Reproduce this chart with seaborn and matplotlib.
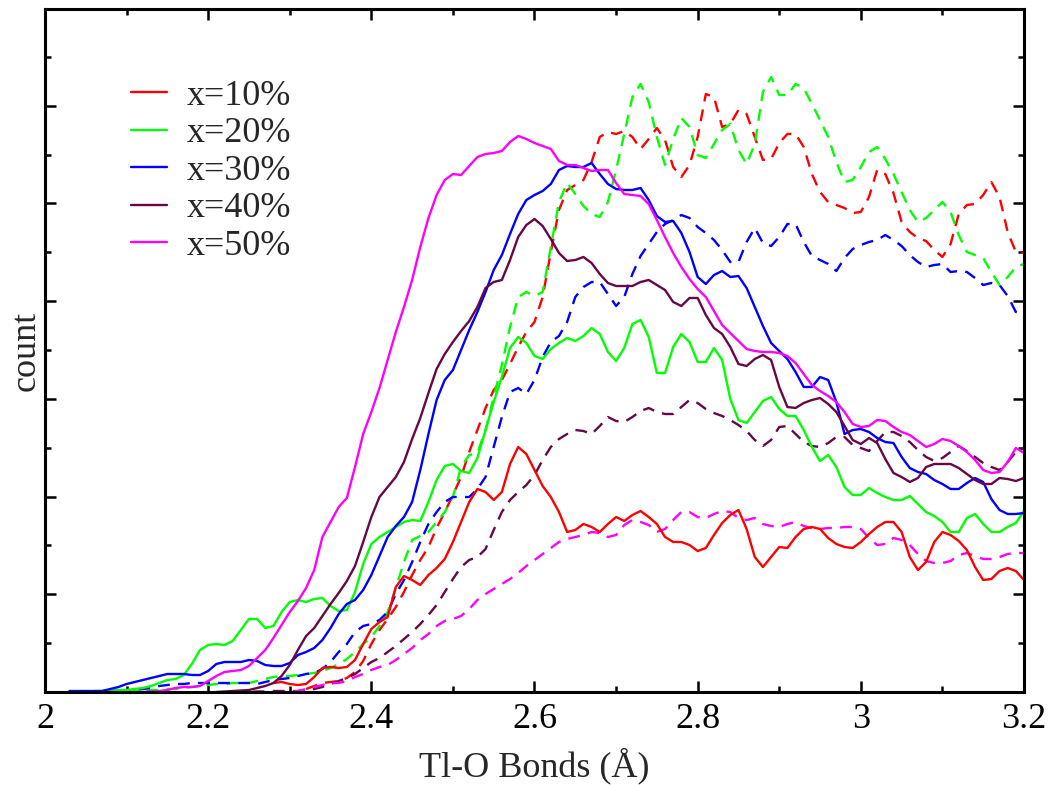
import numpy as np
import pandas as pd
import matplotlib
matplotlib.use("Agg")
import matplotlib.pyplot as plt
from matplotlib.ticker import MultipleLocator, FormatStrFormatter
import seaborn as sns

# data (y in screen-height units, 97.7 per major tick)
# every series ends at 3.20 and is sampled every 0.01 A
labels = ["x=10%", "x=20%", "x=30%", "x=40%", "x=50%"]
colors = ["#ff0000", "#00ff00", "#0000ff", "#670748", "#ff00ff"]

solid_10 = [9, 10, 8, 7, 8, 15, 24, 25, 24, 25,
            32, 48, 63, 70, 75, 105, 116, 112, 107, 117,
            124, 133, 150, 170, 190, 203, 200, 192, 200, 228,
            245, 238, 222, 206, 195, 180, 160, 162, 168, 165,
            160, 168, 175, 171, 177, 181, 175, 168, 155, 150,
            150, 147, 141, 144, 157, 169, 177, 182, 163, 135,
            125, 135, 145, 144, 155, 163, 165, 163, 154, 148,
            145, 144, 150, 158, 165, 170, 170, 160, 135, 122,
            130, 150, 160, 157, 151, 142, 125, 112, 113, 121,
            124, 121, 112]
solid_20 = [1, 1, 2, 2, 2, 3, 4, 6, 9, 12,
            13, 17, 28, 42, 47, 48, 47, 51, 62, 73,
            73, 64, 66, 80, 90, 92, 90, 93, 94, 86,
            81, 82, 100, 128, 148, 155, 160, 165, 170, 172,
            171, 190, 212, 226, 228, 221, 219, 234, 262, 290,
            315, 344, 355, 349, 336, 333, 343, 349, 354, 351,
            356, 364, 358, 340, 331, 344, 368, 372, 355, 319,
            319, 345, 358, 350, 330, 330, 344, 332, 293, 272,
            269, 280, 291, 295, 283, 276, 276, 262, 245, 231,
            237, 225, 205, 197, 197, 204, 199, 195, 192, 192,
            196, 188, 180, 176, 170, 160, 160, 174, 178, 168,
            160, 160, 165, 169, 181]
solid_30 = [1, 1, 1, 1, 1, 3, 5, 8, 10, 12,
            14, 16, 18, 18, 18, 17, 17, 21, 28, 30,
            30, 30, 32, 31, 27, 26, 26, 29, 37, 40,
            44, 52, 64, 78, 88, 92, 102, 117, 136, 155,
            166, 175, 190, 222, 258, 292, 312, 322, 342, 362,
            380, 400, 422, 437, 458, 478, 492, 497, 501, 508,
            522, 526, 525, 525, 529, 518, 508, 503, 502, 502,
            504, 492, 476, 470, 471, 459, 440, 415, 408, 417,
            421, 415, 416, 404, 385, 366, 349, 341, 333, 320,
            305, 305, 315, 312, 290, 258, 262, 263, 260, 254,
            250, 249, 235, 224, 220, 218, 212, 208, 203, 203,
            209, 214, 210, 193, 182, 178, 178, 179]
solid_40 = [0, 0.5, 1, 1.5, 2, 4, 6, 9, 16, 27,
            42, 56, 64, 76, 88, 99, 111, 126, 150, 175,
            195, 205, 215, 230, 253, 274, 299, 323, 338, 350,
            361, 371, 385, 404, 410, 412, 432, 455, 467, 473,
            466, 453, 439, 431, 432, 435, 429, 418, 409, 406,
            406, 406, 410, 412, 407, 402, 390, 386, 394, 394,
            377, 364, 358, 345, 328, 326, 333, 337, 332, 305,
            285, 284, 289, 292, 294, 288, 280, 266, 252, 248,
            254, 249, 233, 219, 215, 210, 214, 225, 228, 228,
            228, 224, 218, 212, 208, 208, 214, 213, 211, 214]
solid_50 = [0, 0.5, 1, 2, 4, 5, 5, 6, 11, 16,
            20, 21, 22, 26, 34, 42, 54, 67, 80, 91,
            104, 122, 155, 170, 185, 194, 225, 258, 280, 304,
            332, 360, 385, 412, 445, 474, 497, 512, 518, 517,
            526, 535, 538, 539, 541, 550, 556, 553, 549, 546,
            543, 531, 527, 527, 524, 521, 522, 522, 509, 498,
            497, 496, 488, 472, 455, 439, 425, 413, 403, 395,
            381, 367, 359, 351, 343, 341, 340, 340, 339, 336,
            329, 318, 307, 301, 296, 290, 280, 268, 265, 266,
            272, 271, 265, 260, 257, 251, 245, 248, 253, 251,
            246, 240, 232, 222, 219, 220, 230, 244, 239]

dashed_10 = [3, 6, 9, 10, 11, 14, 20, 31, 48, 62,
             73, 85, 100, 117, 132, 145, 164, 180, 197, 215,
             240, 262, 284, 302, 312, 328, 345, 360, 370, 395,
             440, 482, 502, 507, 512, 530, 555, 560, 558, 561,
             555, 543, 553, 564, 552, 525, 515, 527, 555, 598,
             595, 565, 568, 582, 578, 555, 532, 533, 549, 558,
             558, 545, 518, 500, 490, 487, 484, 479, 480, 495,
             522, 518, 499, 470, 460, 454, 451, 442, 435, 448,
             478, 487, 488, 497, 510, 495, 460, 440, 439]
dashed_20 = [0, 1, 1, 2, 2, 3, 3, 4, 5, 6,
             7, 8, 8, 9, 9, 9, 11, 13, 15, 16,
             16, 17, 18, 19, 21, 24, 28, 33, 40, 48,
             55, 66, 80, 104, 130, 152, 156, 160, 170, 180,
             195, 225, 237, 239, 262, 295, 327, 365, 395, 400,
             396, 400, 445, 490, 509, 498, 486, 478, 475, 490,
             522, 558, 595, 608, 590, 555, 527, 553, 574, 565,
             537, 534, 548, 562, 568, 542, 528, 548, 600, 615,
             597, 597, 608, 604, 588, 572, 555, 530, 510, 512,
             525, 540, 545, 533, 518, 500, 482, 470, 474, 482,
             490, 480, 457, 440, 437, 434, 420, 407, 415, 425,
             428]
dashed_30 = [0, 1, 2, 3, 4, 6, 7, 8, 8, 9,
             9, 9, 9, 9, 9, 9, 9, 8, 10, 12,
             13, 14, 16, 18, 19, 23, 30, 40, 48, 60,
             66, 68, 72, 80, 98, 112, 130, 150, 168, 180,
             190, 195, 195, 195, 203, 215, 245, 275, 300, 304,
             298, 312, 335, 350, 356, 370, 395, 405, 410, 410,
             398, 386, 395, 418, 436, 448, 460, 468, 472, 477,
             474, 465, 459, 452, 442, 430, 430, 450, 464, 449,
             446, 455, 468, 468, 450, 436, 432, 428, 421, 434,
             443, 447, 450, 452, 457, 452, 446, 437, 430, 425,
             427, 428, 420, 421, 420, 414, 407, 409, 407, 396,
             380, 379]
dashed_40 = [0, 0, 0, 0.5, 0.5, 1, 1, 1, 1, 2,
             3, 5, 8, 11, 14, 18, 24, 30, 34, 40,
             46, 53, 60, 68, 77, 87, 100, 113, 125, 132,
             135, 143, 162, 180, 192, 200, 207, 217, 232, 245,
             253, 258, 262, 261, 258, 266, 275, 271, 270, 275,
             281, 284, 280, 278, 278, 285, 292, 289, 283, 279,
             276, 272, 267, 261, 252, 246, 252, 265, 266, 258,
             250, 246, 245, 249, 255, 255, 247, 244, 241, 251,
             260, 260, 256, 250, 242, 235, 231, 234, 240, 246,
             241, 235, 229, 225, 222, 230, 240, 244]
dashed_50 = [0, 0, 0.5, 1, 3, 5, 7, 9, 9, 11,
             15, 18, 22, 25, 27, 32, 38, 44, 52, 58,
             66, 71, 73, 76, 83, 92, 98, 103, 108, 113,
             119, 126, 132, 138, 144, 150, 153, 155, 157, 160,
             159, 155, 157, 167, 172, 170, 167, 160, 163, 172,
             180, 180, 175, 174, 178, 181, 180, 174, 172, 174,
             168, 166, 165, 168, 170, 166, 164, 163, 164, 164,
             165, 165, 163, 154, 147, 148, 154, 152, 147, 138,
             131, 129, 129, 131, 137, 139, 136, 133, 133, 135,
             138, 139, 139]

solid = [solid_10, solid_20, solid_30, solid_40, solid_50]
dashed = [dashed_10, dashed_20, dashed_30, dashed_40, dashed_50]


def bonds(vals):
    n = len(vals)
    return np.round(3.20 - 0.01 * np.arange(n)[::-1], 2)


sns.set_theme(style="ticks")
plt.rcParams["font.family"] = ["Liberation Serif", "DejaVu Serif"]
plt.rcParams["mathtext.fontset"] = "stix"

fig = plt.figure(figsize=(10.53, 7.85), dpi=100)
ax = fig.add_axes([45 / 1053, 93 / 785, 979 / 1053, 683 / 785])

for lab, col, ys, yd in zip(labels, colors, solid, dashed):
    df_d = pd.DataFrame({"bond": bonds(yd), "count": yd})
    sns.lineplot(data=df_d, x="bond", y="count", color=col, lw=1.7,
                 linestyle=(0, (5, 3.5)), ax=ax, legend=False)
for lab, col, ys, yd in zip(labels, colors, solid, dashed):
    df_s = pd.DataFrame({"bond": bonds(ys), "count": ys})
    sns.lineplot(data=df_s, x="bond", y="count", color=col, lw=1.7,
                 ax=ax, label=lab)

ax.set_xlim(2, 3.2)
ax.set_ylim(0, 683)
ax.xaxis.set_major_locator(MultipleLocator(0.2))
ax.xaxis.set_minor_locator(MultipleLocator(0.1))
ax.xaxis.set_major_formatter(FormatStrFormatter("%g"))
ax.yaxis.set_major_locator(MultipleLocator(97.7))
ax.yaxis.set_minor_locator(MultipleLocator(97.7 / 2))
ax.set_yticklabels([])
ax.tick_params(which="both", direction="in", top=True, right=True, width=1.8,
               labelsize=26, pad=8, colors="black")
ax.tick_params(which="major", length=8)
ax.tick_params(which="minor", length=4.5)
for s in ax.spines.values():
    s.set_linewidth(2.2)
    s.set_color("black")

ax.set_xlabel("Tl-O Bonds (Å)", fontsize=26, labelpad=8)
ax.set_ylabel("count", fontsize=26, va="center")
ax.yaxis.set_label_coords(-0.019, 0.5)

ax.legend(loc="upper left", bbox_to_anchor=(0.088, 0.897), frameon=False,
          fontsize=26, handlelength=1.0, handletextpad=0.55,
          labelspacing=0.12, borderpad=0, borderaxespad=0)

fig.savefig("out.png", dpi=100)
